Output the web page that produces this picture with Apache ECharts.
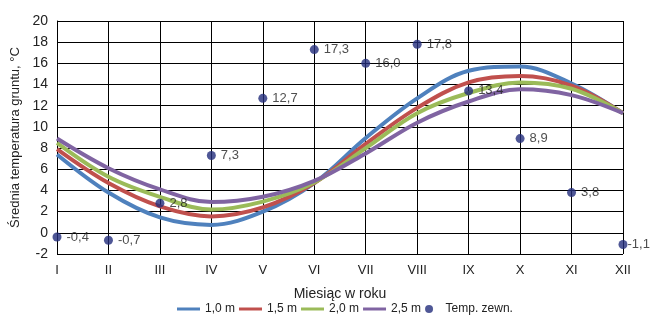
<!DOCTYPE html>
<html>
<head>
<meta charset="utf-8">
<script src="https://cdn.jsdelivr.net/npm/echarts@6/dist/echarts.min.js"></script>
<style>
  html, body { margin: 0; padding: 0; background: #fff; }
  #chart { width: 650px; height: 328px; }
</style>
</head>
<body>
<div id="chart"></div>
<script>
// miesiące
const months = ['I', 'II', 'III', 'IV', 'V', 'VI', 'VII', 'VIII', 'IX', 'X', 'XI', 'XII']

// temperatura gruntu na głębokościach
const depth10 = [7.4, 3.8, 1.45, 0.75, 2.0, 4.7, 8.95, 12.7, 15.3, 15.7, 14.1, 11.3]
const depth15 = [7.9, 4.7, 2.5, 1.55, 2.4, 4.7, 8.4, 11.8, 14.2, 14.8, 13.9, 11.3]
const depth20 = [8.5, 5.3, 3.4, 2.2, 2.95, 4.75, 8.0, 11.3, 13.2, 14.2, 13.6, 11.3]
const depth25 = [8.9, 6.1, 4.1, 2.9, 3.4, 4.9, 7.5, 10.4, 12.4, 13.55, 13.0, 11.3]

// temperatura zewnętrzna
const tempOut = [-0.4, -0.7, 2.8, 7.3, 12.7, 17.3, 16.0, 17.8, 13.4, 8.9, 3.8, -1.1]

const seriesNames = ['1,0 m', '1,5 m', '2,0 m', '2,5 m', 'Temp. zewn.']
const colors = ['#4f81bd', '#c0504d', '#9bbb59', '#8064a2', '#232d7c']

const fontFamily = '"Liberation Sans", Arial, sans-serif'
const lineIcon = 'path://M0,0 L23,0 L23,3 L0,3 Z'

let chart = echarts.init(document.getElementById('chart'))

let lineSeries = (name, data, color) => {
  return {
    name: name,
    type: 'line',
    data: data,
    smooth: 0.35,
    symbol: 'none',
    lineStyle: { width: 4, color: color },
    itemStyle: { color: color },
    z: 2
  }
}

const option = {
  animation: false,
  textStyle: { fontFamily: fontFamily },
  grid: {
    left: 57,
    right: 27,
    top: 21,
    bottom: 74
  },
  legend: {
    bottom: 8,
    left: 172,
    itemWidth: 23,
    itemHeight: 8,
    itemGap: 4,
    textStyle: { fontSize: 12, color: '#222', fontFamily: fontFamily },
    data: [
      { name: seriesNames[0], icon: lineIcon },
      { name: seriesNames[1], icon: lineIcon },
      { name: seriesNames[2], icon: lineIcon },
      { name: seriesNames[3], icon: lineIcon },
      { name: seriesNames[4], icon: 'circle' }
    ]
  },
  xAxis: {
    type: 'category',
    data: months,
    boundaryGap: false,
    name: 'Miesiąc w roku',
    nameLocation: 'middle',
    nameGap: 33,
    nameTextStyle: { fontSize: 14, color: '#222' },
    axisLine: { lineStyle: { color: '#000', width: 1 } },
    axisTick: { show: false },
    axisLabel: { fontSize: 13, color: '#222', margin: 10 },
    splitLine: { show: true, lineStyle: { color: '#000', width: 1 } }
  },
  yAxis: {
    type: 'value',
    min: -2,
    max: 20,
    interval: 2,
    name: 'Średnia temperatura gruntu, °C',
    nameLocation: 'middle',
    nameGap: 31,
    nameTextStyle: { fontSize: 13, color: '#222' },
    axisLine: { show: true, lineStyle: { color: '#000', width: 1 } },
    axisTick: { show: false },
    axisLabel: { fontSize: 14, color: '#222', margin: 9 },
    splitLine: { show: true, lineStyle: { color: '#000', width: 1 } }
  },
  series: [
    lineSeries(seriesNames[0], depth10, colors[0]),
    lineSeries(seriesNames[1], depth15, colors[1]),
    lineSeries(seriesNames[2], depth20, colors[2]),
    lineSeries(seriesNames[3], depth25, colors[3]),
    {
      name: seriesNames[4],
      type: 'scatter',
      data: tempOut.map((v, i) => {
        // ostatni punkt przy krawędzi - etykieta bliżej
        if (i === tempOut.length - 1) {
          return { value: v, label: { distance: 0 } }
        }
        return v
      }),
      symbol: 'circle',
      symbolSize: 9,
      itemStyle: { color: colors[4] },
      z: 3,
      label: {
        show: true,
        position: 'right',
        distance: 5,
        fontSize: 13,
        color: '#222',
        formatter: (p) => p.value.toFixed(1).replace('.', ',')
      }
    }
  ]
}

chart.setOption(option)
</script>
</body>
</html>
